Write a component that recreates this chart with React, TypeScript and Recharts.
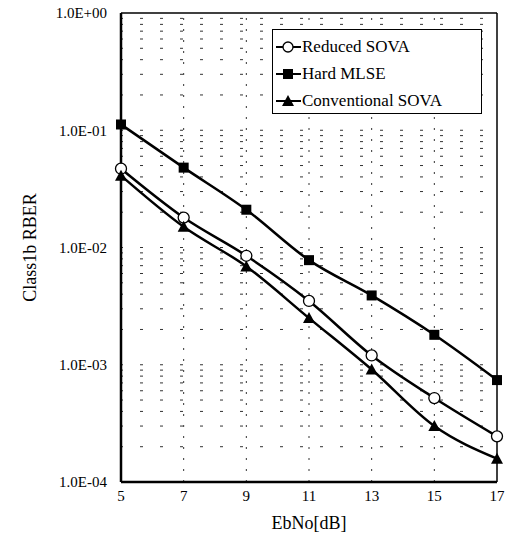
import React from 'react';
import { LineChart, Line, XAxis, YAxis, ReferenceLine, Legend } from 'recharts';

const ebno = [5, 7, 9, 11, 13, 15, 17];
const reducedSova = [4.7e-2, 1.8e-2, 8.5e-3, 3.5e-3, 1.2e-3, 5.2e-4, 2.45e-4];
const hardMlse = [1.12e-1, 4.8e-2, 2.1e-2, 7.8e-3, 3.9e-3, 1.8e-3, 7.4e-4];
const convSova = [4.1e-2, 1.5e-2, 6.9e-3, 2.5e-3, 9.1e-4, 3.0e-4, 1.58e-4];

const xTicks = [5, 7, 9, 11, 13, 15, 17];
const yTicks = [1e-4, 1e-3, 1e-2, 1e-1, 1];
const yTickLabels = ['1.0E-04', '1.0E-03', '1.0E-02', '1.0E-01', '1.0E+00'];
const vGrid = [7, 9, 11, 13, 15];
const minorMult = [2, 3, 4, 5, 6, 7, 8, 9];
const decades = [1e-4, 1e-3, 1e-2, 1e-1];

const seriesNames = ['Reduced SOVA', 'Hard MLSE', 'Conventional SOVA'];

const data = ebno.map((x, i) => ({ x, r: reducedSova[i], h: hardMlse[i], c: convSova[i] }));

const hGrid: number[] = [];
decades.forEach((d) => {
  if (d > 1e-4) hGrid.push(d);
  minorMult.forEach((m) => hGrid.push(d * m));
});

const FONT = '"Liberation Serif", "DejaVu Serif", serif';

const CircleDot = (p: any) => (
  <circle key={`c${p.index}`} cx={p.cx} cy={p.cy} r={5.5} fill="#fff" stroke="#000" strokeWidth={1.3} />
);
const SquareDot = (p: any) => (
  <rect key={`s${p.index}`} x={p.cx - 5} y={p.cy - 5} width={10} height={10} fill="#000" />
);
const TriDot = (p: any) => (
  <path key={`t${p.index}`} d={`M${p.cx},${p.cy - 6} L${p.cx + 6},${p.cy + 5} L${p.cx - 6},${p.cy + 5} Z`} fill="#000" />
);

const iconFor = (i: number) => {
  if (i === 0) return <circle cx={12} cy={8} r={5} fill="#fff" stroke="#000" strokeWidth={1.3} />;
  if (i === 1) return <rect x={7} y={3} width={10} height={10} fill="#000" />;
  return <path d="M12,2 L18,13 L6,13 Z" fill="#000" />;
};

const LegendBox = () => (
  <div
    style={{
      border: '1.5px solid #000',
      background: '#fff',
      width: 210,
      height: 85,
      boxSizing: 'border-box',
      paddingTop: 3,
      fontFamily: FONT,
      fontSize: 17,
      color: '#000',
      textAlign: 'left',
    }}
  >
    {seriesNames.map((n, i) => (
      <div key={n} style={{ display: 'flex', alignItems: 'center', height: 27, paddingLeft: 3 }}>
        <svg width={25} height={16} style={{ marginRight: 1 }}>
          <line x1={0} y1={8} x2={25} y2={8} stroke="#000" strokeWidth={2} />
          {iconFor(i)}
        </svg>
        <span>{n}</span>
      </div>
    ))}
  </div>
);

export default function App() {
  return (
    <div style={{ position: 'absolute', left: 0, top: 0, background: '#fff' }}>
      <LineChart width={515} height={537} data={data} margin={{ top: 13, right: 18, left: 0, bottom: 0 }}>
        {hGrid.map((v) => (
          <ReferenceLine key={`h${v}`} y={v} stroke="#333" strokeWidth={1} strokeDasharray="3 17" strokeDashoffset={-19} />
        ))}
        {vGrid.map((v) => (
          <ReferenceLine key={`v${v}`} x={v} stroke="#333" strokeWidth={1} strokeDasharray="2 9" />
        ))}
        <ReferenceLine y={1} stroke="#000" strokeWidth={1.5} />
        <ReferenceLine x={17} stroke="#000" strokeWidth={1.5} />
        <XAxis
          dataKey="x"
          type="number"
          domain={[5, 17]}
          ticks={xTicks}
          height={55}
          axisLine={{ stroke: '#000', strokeWidth: 2.5 }}
          tickLine={false}
          tickSize={6}
          tickMargin={2}
          tick={{ fill: '#000', fontFamily: FONT, fontSize: 15 }}
          label={{ value: 'EbNo[dB]', position: 'insideBottom', offset: 8, fill: '#000', fontFamily: FONT, fontSize: 18 }}
        />
        <YAxis
          scale="log"
          domain={[1e-4, 1]}
          ticks={yTicks}
          allowDataOverflow
          width={121}
          axisLine={{ stroke: '#000', strokeWidth: 2.5 }}
          tickLine={false}
          tickSize={12}
          tickMargin={2}
          tickFormatter={(v: number) => yTickLabels[yTicks.findIndex((t) => Math.abs(Math.log10(t) - Math.log10(v)) < 1e-6)] ?? ''}
          tick={{ fill: '#000', fontFamily: FONT, fontSize: 15 }}
          label={{ value: 'Class1b RBER', angle: -90, position: 'insideLeft', offset: 30, fill: '#000', fontFamily: FONT, fontSize: 18, style: { textAnchor: 'middle' } }}
        />
        <Legend
          layout="horizontal"
          verticalAlign="middle"
          align="center"
          content={() => <LegendBox />}
          wrapperStyle={{ position: 'absolute', left: 272, top: 29, width: 210, height: 85 }}
        />
        <Line dataKey="r" name={seriesNames[0]} type="monotone" stroke="#000" strokeWidth={2.5} dot={CircleDot} isAnimationActive={false} />
        <Line dataKey="h" name={seriesNames[1]} type="monotone" stroke="#000" strokeWidth={2.5} dot={SquareDot} isAnimationActive={false} />
        <Line dataKey="c" name={seriesNames[2]} type="monotone" stroke="#000" strokeWidth={2.5} dot={TriDot} isAnimationActive={false} />
      </LineChart>
    </div>
  );
}
